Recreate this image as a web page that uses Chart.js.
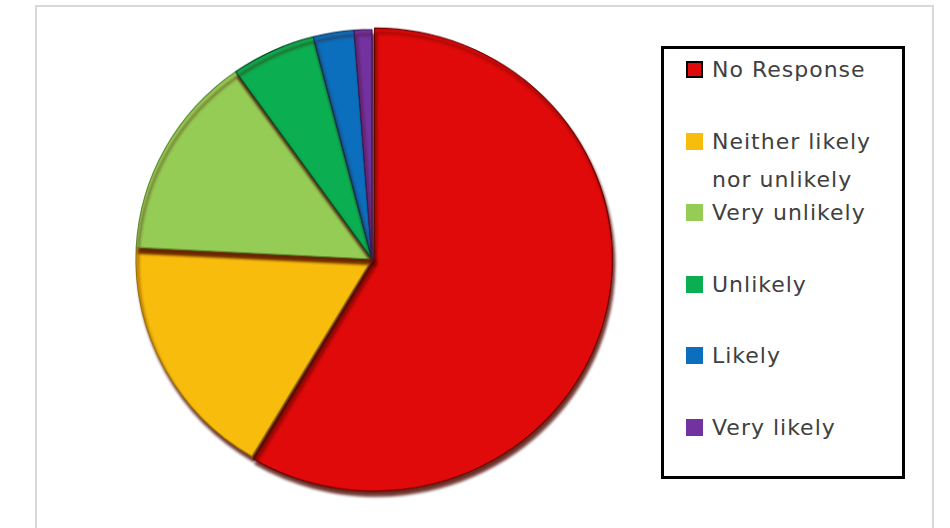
<!DOCTYPE html>
<html>
<head>
<meta charset="utf-8">
<script src="https://cdn.jsdelivr.net/npm/chart.js@4"></script>
<style>
  html, body { margin: 0; padding: 0; background: #fff; width: 950px; height: 528px; overflow: hidden; }
  #frame { position: absolute; left: 35px; top: 5px; width: 899px; height: 540px; border: 2px solid #d9d9d9; box-sizing: border-box; }
  #wrapPie { position: absolute; left: 122px; top: 9px; width: 500px; height: 500px; transform: scaleY(0.972); transform-origin: 50% 50%; }
  #legend { position: absolute; left: 661px; top: 46px; width: 244px; height: 433px; border: 3px solid #000; box-sizing: border-box;
            font-family: "DejaVu Sans", sans-serif; font-size: 22px; letter-spacing: 1px; color: #404040; }
  .item { position: absolute; left: 0; width: 238px; }
  .swatch { position: absolute; left: 22px; width: 17px; height: 17px; box-sizing: border-box; }
  .label { position: absolute; left: 48px; width: 188px; line-height: 38px; }
</style>
</head>
<body>
<div id="frame"></div>
<div id="wrapPie"><canvas id="cPie"></canvas></div>
<div id="legend"></div>
<script>
// ===== Survey response pie =====
const labels = ['No Response', 'Neither likely nor unlikely', 'Very unlikely', 'Unlikely', 'Likely', 'Very likely'];
const shares = [58.5, 17.3, 14.4, 5.8, 2.8, 1.2];
const colors = ['#e00a0a', '#f7bc0c', '#94cc55', '#0bae50', '#0b6fbe', '#7232a0'];
const edges = ['#6a0000', '#9a7400', '#5f8a30', '#064a26', '#06385f', '#3e1a5a'];

// soft dark rim under the slices (Excel-like bevel)
const rimShadow = {
    id: 'rimShadow',
    beforeDatasetDraw(chart) {
        const ctx = chart.ctx;
        ctx.save();
        ctx.shadowColor = 'rgba(80,10,0,0.85)';
        ctx.shadowBlur = 3;
        ctx.shadowOffsetX = 2;
        ctx.shadowOffsetY = 5;
    },
    afterDatasetDraw(chart) { chart.ctx.restore(); }
};

new Chart(document.getElementById('cPie').getContext('2d'), {
    type: 'pie',
    data: { labels, datasets: [{
        data: shares,
        backgroundColor: colors,
        borderColor: edges,
        borderWidth: 1.2,
        offset: [9, 0, 0, 0, 0, 0],
        radius: 236
    }]},
    options: { responsive: true, maintainAspectRatio: false, animation: false,
        layout: { padding: 0 },
        plugins: { legend: { display: false }, tooltip: { enabled: false } }
    },
    plugins: [rimShadow]
});

// legend box, one slot per category
const legend = document.getElementById('legend');
const slot = 71.6;
labels.forEach((l, i) => {
    const row = document.createElement('div');
    row.className = 'item';
    row.style.top = (2 + i * slot) + 'px';
    const sw = document.createElement('div');
    sw.className = 'swatch';
    sw.style.top = '10px';
    sw.style.background = colors[i];
    if (i === 0) sw.style.border = '2px solid #000';
    const tx = document.createElement('div');
    tx.className = 'label';
    tx.textContent = l;
    row.appendChild(sw);
    row.appendChild(tx);
    legend.appendChild(row);
});
</script>
</body>
</html>
